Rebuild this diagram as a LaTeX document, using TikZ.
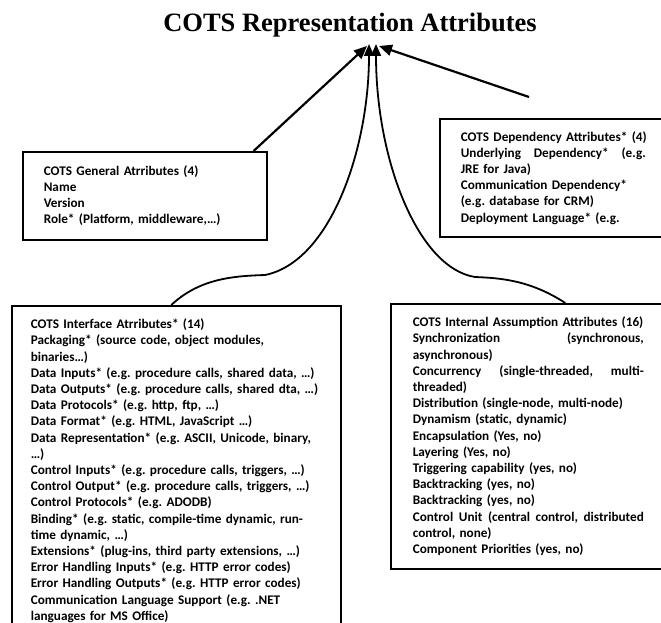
\documentclass[tikz,border=0pt]{standalone}
\usepackage{fontspec}
\setmainfont{Carlito}
\newfontfamily\titlefont{Liberation Serif}
\usetikzlibrary{arrows.meta}
\frenchspacing
\newcommand{\jl}[2]{\noindent\hbox to #1{#2}}
\begin{document}
\begin{tikzpicture}[x=1pt,y=-1pt]
\tikzset{attr/.style={draw,line width=1.6pt,anchor=north west,align=left,
    inner xsep=21pt,font=\fontsize{13.2}{16.2}\selectfont\bfseries},
  conn/.style={line width=2.2pt,-{Triangle[length=13pt,width=11pt]}},
  bendconn/.style={line width=1.8pt,-{Triangle[length=12pt,width=10pt]}}}
\useasboundingbox (0,0) rectangle (661,623);
\clip (0,0) rectangle (661,623);
\node[font=\titlefont\bfseries\fontsize{26.5}{30}\selectfont] (title) at (350,25)
    {COTS Representation Attributes};
\coordinate (tipL) at (367,46);
\coordinate (tipR) at (379,46);
\coordinate (depstart) at (529,97);
\node[attr,text width=202pt,minimum height=88pt] (general) at (22,151) {
    COTS General Atrributes (4)\\
    Name\\
    Version\\
    Role* (Platform, middleware,…)};
\node[attr,text width=200pt,minimum height=118pt] (depend) at (439,118) {
    COTS Dependency Attributes* (4)\\
    \jl{185pt}{Underlying\hfill Dependency*\hfill (e.g.}\\
    JRE for Java)\\
    Communication Dependency*\\
    (e.g. database for CRM)\\
    Deployment Language* (e.g.};
\node[attr,text width=291pt,inner xsep=19pt,minimum height=330pt] (interface) at (11,305) {
    COTS Interface Atrributes* (14)\\
    Packaging* (source code, object modules,\\
    binaries…)\\
    Data Inputs* (e.g. procedure calls, shared data, …)\\
    Data Outputs* (e.g. procedure calls, shared dta, …)\\
    Data Protocols* (e.g. http, ftp, …)\\
    Data Format* (e.g. HTML, JavaScript …)\\
    Data Representation* (e.g. ASCII, Unicode, binary,\\
    …)\\
    Control Inputs* (e.g. procedure calls, triggers, …)\\
    Control Output* (e.g. procedure calls, triggers, …)\\
    Control Protocols* (e.g. ADODB)\\
    Binding* (e.g. static, compile-time dynamic, run-\\
    time dynamic, …)\\
    Extensions* (plug-ins, third party extensions, …)\\
    Error Handling Inputs* (e.g. HTTP error codes)\\
    Error Handling Outputs* (e.g. HTTP error codes)\\
    Communication Language Support (e.g. .NET\\
    languages for MS Office)};
\node[attr,text width=245pt,inner xsep=22pt,minimum height=265pt] (internal) at (390,303) {
    COTS Internal Assumption Attributes (16)\\
    \jl{231pt}{Synchronization\hfill (synchronous,}\\
    asynchronous)\\
    \jl{231pt}{Concurrency\hfill (single-threaded,\hfill multi-}\\
    threaded)\\
    Distribution (single-node, multi-node)\\
    Dynamism (static, dynamic)\\
    Encapsulation (Yes, no)\\
    Layering (Yes, no)\\
    Triggering capability (yes, no)\\
    Backtracking (yes, no)\\
    Backtracking (yes, no)\\
    \jl{231pt}{Control\hfill Unit\hfill (central\hfill control,\hfill distributed}\\
    control, none)\\
    Component Priorities (yes, no)};
% links to the title
\draw[conn] ([xshift=-14pt]general.north east) -- (tipL);
\draw[conn] (depstart) -- (tipR);
\draw[bendconn] ([xshift=-5pt]interface.north) .. controls (200,278) and (235,276) .. (265,275)
    .. controls (330,262) and (369,150) .. ([yshift=2pt]tipL -| 369,0);
\draw[bendconn] ([xshift=30pt]internal.north) .. controls (530,280) and (500,278) .. (475,277)
    .. controls (418,268) and (376,160) .. ([yshift=2pt]tipR -| 376,0);
\end{tikzpicture}
\end{document}
